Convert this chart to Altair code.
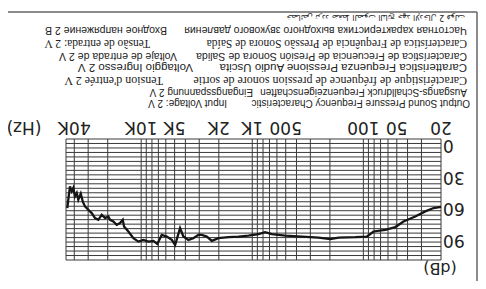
import altair as alt
import pandas as pd

# ---- measured response curve (frequency in Hz, level in dB) ----
freq_hz = [20, 23.3, 27.7, 34.1, 43.5, 51.6, 63.5, 80.9, 92.8, 118, 167, 199, 253, 357,
           506, 667, 766, 879, 1082, 1331, 1640, 2018, 2312, 2565, 2845, 3055, 3390,
           3760, 4170, 4465, 4950, 5300, 5880, 6530, 7150, 7760, 8610, 9550, 10600,
           11750, 13040, 14260, 14650, 15490, 16600, 17820, 19060, 19760, 21140, 22650,
           24320, 26020, 27880, 29920, 32060, 33590, 34990, 36810, 38020, 39440, 40830,
           42170, 43750, 45290, 46240]
level_db = [58.6, 59.6, 62.8, 67.6, 72.4, 77.7, 80.3, 81.9, 86.7, 87.3, 87.7, 89.2, 87.7, 86.7,
            85.8, 84.4, 82.5, 84.4, 85.8, 86.7, 87.3, 88.3, 90.8, 86.7, 85.1, 85.1, 88.3,
            89.9, 86.7, 78.7, 94.7, 89.9, 86.7, 85.1, 93.7, 90.8, 91.5, 89.9, 91.5,
            88.3, 81.9, 77.2, 70.8, 73.9, 75.5, 72.4, 70.8, 67.6, 69.2, 66.0,
            70.8, 69.2, 64.4, 61.2, 58.1, 53.3, 45.9, 51.7, 45.3, 48.5, 40.5,
            43.7, 39.0, 51.7, 59.6]

# ---- grid and ticks ----
grid_freqs = [20, 30, 40, 50, 60, 70, 80, 90, 100, 200, 300, 400, 500, 600, 700, 800, 900,
              1000, 2000, 3000, 4000, 5000, 6000, 7000, 8000, 9000, 10000, 20000, 30000,
              40000, 47500]
grid_levels = [-6, -1.74, 2.52, 6.78, 11.04, 15.3, 19.56, 23.81, 28.07, 32.33, 36.59, 40.85,
               45.11, 49.37, 53.63, 57.89, 62.15, 66.41, 70.67, 74.93, 79.19, 83.44, 87.7,
               91.96, 96.22, 100.48, 104.74, 109]
x_tick_values = [20, 50, 100, 500, 1000, 2000, 5000, 10000, 40000]
x_tick_labels = ["20", "50", "100", "500", "1K", "2K", "5K", "10K", "40K"]
y_tick_values = [0, 30, 60, 90]
y_tick_labels = ["0", "30", "60", "90"]

# ---- caption texts (main part, voltage part) ----
caption_main = [
    "Output Sound Pressure Frequency Characteristic",
    "Ausgangs-Schalldruck Frequenzeigenschaften",
    "Caractéristique de fréquence de pression sonore de sortie",
    "Caratteristica Frequenza Pressione Audio Uscita",
    "Característica de Frecuencia de Presión Sonora de Salida",
    "Característica de Frequência de Pressão Sonora de Saída",
    "Частотная характеристика выходного звукового давления",
    "خصائص تردد ضغط الصوت الناتج   جهد الإدخال 2 فولت",
]
caption_volt = [
    "Input Voltage: 2 V",
    "Eingangsspannung 2 V",
    "Tension d'entrée 2 V",
    "Voltaggio Ingresso 2 V",
    "Voltaje de entrada de 2 V",
    "Tensão de entrada: 2 V",
    "Входное напряжение 2 В",
    "",
]
caption_font = ["Liberation Sans", "Liberation Sans", "Liberation Serif", "Liberation Sans",
                "Liberation Sans", "Liberation Serif", "Liberation Sans", "DejaVu Sans"]
caption_size = [10, 10, 12, 11.5, 10.5, 11.5, 10.5, 8]
# layout (pixels relative to plot origin; the whole figure is rotated 180 degrees)
caption_y = [-36, -47, -58.5, -72, -83.5, -96, -109, -122.5]
caption_main_x = [404, 401, 401, 401, 401, 401, 401, 399]
caption_volt_x = [161, 187, 97, 127, 111, 84, 101, 0]

W, H = 375, 121
ink = "#222222"
tick_font = "DejaVu Sans"
tick_size = 17

xscale = alt.Scale(type="log", domain=[20, 47500], reverse=True, nice=False)
yscale = alt.Scale(domain=[-6, 109], reverse=True, nice=False, zero=False)

curve = pd.DataFrame({"f": freq_hz, "db": level_db})
gx = pd.DataFrame({"f": grid_freqs})
gy = pd.DataFrame({"db": grid_levels})
xt = pd.DataFrame({"f": x_tick_values, "lab": x_tick_labels})
yt = pd.DataFrame({"db": y_tick_values, "lab": y_tick_labels})
one = pd.DataFrame({"k": [0]})

hgrid = alt.Chart(gy).mark_rule(color="#3a3a3a", strokeWidth=1).encode(
    y=alt.Y("db:Q", scale=yscale, axis=None)
)
vgrid = alt.Chart(gx).mark_rule(color="#3a3a3a", strokeWidth=1).encode(
    x=alt.X("f:Q", scale=xscale, axis=None)
)
line = alt.Chart(curve).mark_line(color="#151515", strokeWidth=2.3).encode(
    x=alt.X("f:Q", scale=xscale, axis=None),
    y=alt.Y("db:Q", scale=yscale, axis=None),
    order="f:Q",
)
# tick labels (upside down, like the whole picture)
xlabels = alt.Chart(xt).mark_text(angle=180, align="center", baseline="middle",
                                  font=tick_font, fontSize=tick_size, color=ink).encode(
    x=alt.X("f:Q", scale=xscale, axis=None),
    y=alt.value(-12),
    text="lab:N",
)
ylabels = alt.Chart(yt).mark_text(angle=180, align="right", baseline="middle",
                                  font=tick_font, fontSize=tick_size, color=ink).encode(
    y=alt.Y("db:Q", scale=yscale, axis=None),
    x=alt.value(W + 2),
    text="lab:N",
)

layers = [hgrid, vgrid, line, xlabels, ylabels]

# unit captions
layers.append(alt.Chart(one).mark_text(text="(Hz)", angle=180, align="center",
              baseline="middle", fontSize=tick_size, font=tick_font, color=ink)
              .encode(x=alt.value(-42), y=alt.value(-12)))
layers.append(alt.Chart(one).mark_text(text="(dB)", angle=180, align="center",
              baseline="middle", fontSize=16, font=tick_font, color=ink)
              .encode(x=alt.value(374), y=alt.value(129)))

for i in range(len(caption_main)):
    layers.append(alt.Chart(one).mark_text(
        text=caption_main[i], angle=180, align="left", baseline="middle",
        font=caption_font[i], fontSize=caption_size[i], color=ink)
        .encode(x=alt.value(caption_main_x[i]), y=alt.value(caption_y[i])))
    if caption_volt[i]:
        layers.append(alt.Chart(one).mark_text(
            text=caption_volt[i], angle=180, align="left", baseline="middle",
            font=caption_font[i], fontSize=caption_size[i], color=ink)
            .encode(x=alt.value(caption_volt_x[i]), y=alt.value(caption_y[i])))

# outer frame fragments
layers.append(alt.Chart(one).mark_rule(color="#666666", strokeWidth=1.5).encode(
    x=alt.value(-58), x2=alt.value(411), y=alt.value(-127)))
layers.append(alt.Chart(one).mark_rule(color="#666666", strokeWidth=1.5).encode(
    x=alt.value(411), y=alt.value(-127), y2=alt.value(142)))

chart = alt.layer(*layers).properties(
    width=W, height=H,
    padding={"left": 58, "top": 131, "right": 37, "bottom": 21},
    autosize=alt.AutoSizeParams(type="none"),
    background="white",
).configure_view(stroke=None)

chart.save("out.html", embed_options={"renderer": "svg", "actions": False})
